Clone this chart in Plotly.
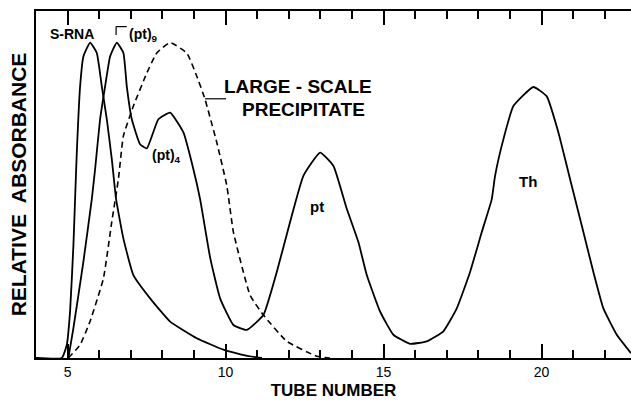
import plotly.graph_objects as go

# Tube numbers and relative absorbance (0-100 scale)
srna_x = [4.0, 4.816, 4.975, 5.079, 5.184, 5.237, 5.291, 5.396, 5.5, 5.712, 5.924, 6.082,
          6.241, 6.399, 6.535, 6.766, 7.082, 7.611, 8.244, 9.089, 9.93, 10.5, 10.987, 11.15]
srna_y = [0, 0, 3.8, 13.5, 32.5, 45.8, 59.2, 78.3, 86.9, 90.9, 87.9, 78.3,
          68.8, 57.3, 45.8, 34.4, 23.9, 17.2, 10.5, 5.7, 2.4, 1.0, 0.2, 0]

main_x = [5.025, 5.184, 5.5, 5.766, 5.87, 6.028, 6.187, 6.345, 6.557, 6.766, 6.873, 7.032,
          7.294, 7.506, 7.873, 8.244, 8.665, 8.981, 9.193, 9.516, 9.826, 10.247, 10.671,
          11.196, 11.62, 12.041, 12.462, 12.99, 13.41, 13.835, 14.203, 14.468, 14.889,
          15.31, 15.839, 16.367, 16.892, 17.316, 17.737, 18.108, 18.424, 18.528, 18.791,
          19.108, 19.741, 20.165, 20.532, 20.797, 21.06, 21.323, 21.639, 21.956, 22.38, 22.83]
main_y = [0, 8.6, 27.8, 45.8, 54.4, 68.8, 78.3, 86.9, 90.9, 87.9, 78.3, 68.8,
          61.6, 60.4, 68.8, 70.7, 65.0, 54.4, 45.8, 28.7, 17.2, 9.5, 8.1,
          12.4, 24.8, 39.2, 52.5, 59.2, 55.4, 43.0, 33.4, 23.9, 13.4,
          6.7, 4.1, 4.8, 7.7, 14.3, 24.8, 36.3, 45.8, 52.5, 63.0,
          72.6, 78.1, 75.4, 65.0, 55.4, 45.8, 36.3, 24.8, 14.3, 6.7, 1.4]

prec_x = [5.025, 5.396, 5.712, 6.133, 6.399, 6.608, 6.766, 7.082, 7.506, 7.823, 8.244,
          8.772, 9.089, 9.351, 9.722, 10.038, 10.247, 10.775, 11.196, 11.937, 12.886, 13.3]
prec_y = [0, 3.8, 10.6, 22.9, 39.3, 51.6, 64.0, 72.6, 82.1, 87.9, 90.9,
          87.9, 81.2, 74.5, 62.1, 49.7, 36.3, 18.1, 12.4, 4.8, 0.5, 0]

minor_ticks = list(range(4, 23))          # one tick per tube
major_ticks = [5, 10, 15, 20]             # labelled ticks

FONT = "Liberation Sans"
BLACK = "black"
X_RANGE = [4.0, 22.83]

fig = go.Figure()
fig.add_trace(go.Scatter(x=srna_x, y=srna_y, mode="lines",
                         line=dict(color=BLACK, width=1.8, shape="spline", smoothing=0.4),
                         hoverinfo="skip", showlegend=False))
fig.add_trace(go.Scatter(x=main_x, y=main_y, mode="lines",
                         line=dict(color=BLACK, width=1.8, shape="spline", smoothing=0.4),
                         hoverinfo="skip", showlegend=False))
fig.add_trace(go.Scatter(x=prec_x, y=prec_y, mode="lines", xaxis="x2",
                         line=dict(color=BLACK, width=1.6, dash="6px,4px", shape="spline", smoothing=0.4),
                         hoverinfo="skip", showlegend=False))

lab = dict(family=FONT, size=14, color=BLACK, weight="bold")
th = dict(family=FONT, size=15, color=BLACK, weight="bold")
big = dict(family=FONT, size=19, color=BLACK, weight="bold")
ann = [
    dict(x=5.142, y=93.4, text="S-RNA", font=lab, xanchor="center", yanchor="middle"),
    dict(x=6.873, y=93.2, text="(pt)<sub>9</sub>", font=lab, xanchor="left", yanchor="middle"),
    dict(x=7.61, y=58.2, text="(pt)<sub>4</sub>", font=lab, xanchor="left", yanchor="middle"),
    dict(x=12.88, y=43.8, text="pt", font=th, xanchor="center", yanchor="middle"),
    dict(x=19.57, y=51.0, text="Th", font=th, xanchor="center", yanchor="middle"),
    dict(x=12.29, y=78.2, text="LARGE - SCALE", font=big, xanchor="center", yanchor="middle"),
    dict(x=12.45, y=71.6, text="PRECIPITATE", font=big, xanchor="center", yanchor="middle"),
]
for a in ann:
    fig.add_annotation(showarrow=False, xref="x", yref="y", **a)

# leader lines
fig.add_shape(type="line", xref="x", yref="y", x0=6.535, x1=6.873, y0=95.5, y1=95.5, line=dict(color=BLACK, width=1.2))
fig.add_shape(type="line", xref="x", yref="y", x0=6.535, x1=6.535, y0=95.5, y1=93.1, line=dict(color=BLACK, width=1.2))
fig.add_shape(type="line", xref="x", yref="y", x0=9.351, x1=10.016, y0=74.7, y1=74.7, line=dict(color=BLACK, width=1.2))

fig.update_layout(
    width=631, height=400,
    margin=dict(l=36, r=0, t=11, b=40),
    paper_bgcolor="white", plot_bgcolor="white",
    xaxis=dict(
        range=X_RANGE, showgrid=False, zeroline=False,
        showline=True, linecolor=BLACK, linewidth=1.8, mirror="ticks",
        tickmode="linear", tick0=0, dtick=5,
        ticks="inside", ticklen=14, tickwidth=2, tickcolor="black",
        tickfont=dict(family=FONT, size=14, color=BLACK),
        title=dict(text="<b>TUBE NUMBER</b>", font=dict(family=FONT, size=17, color=BLACK), standoff=8),
    ),
    xaxis2=dict(
        range=X_RANGE, overlaying="x", anchor="y", side="bottom",
        showgrid=False, zeroline=False, showline=False, mirror="ticks",
        tickmode="linear", tick0=0, dtick=1, showticklabels=False,
        ticks="inside", ticklen=8, tickwidth=2, tickcolor="black",
    ),
    yaxis=dict(
        range=[0, 100], showgrid=False, zeroline=False,
        showline=True, linecolor=BLACK, linewidth=1.8, mirror=False,
        showticklabels=False,
        title=dict(text="<b>RELATIVE  ABSORBANCE</b>", font=dict(family=FONT, size=21, color=BLACK), standoff=2),
    ),
)

fig.write_html("out.html")
